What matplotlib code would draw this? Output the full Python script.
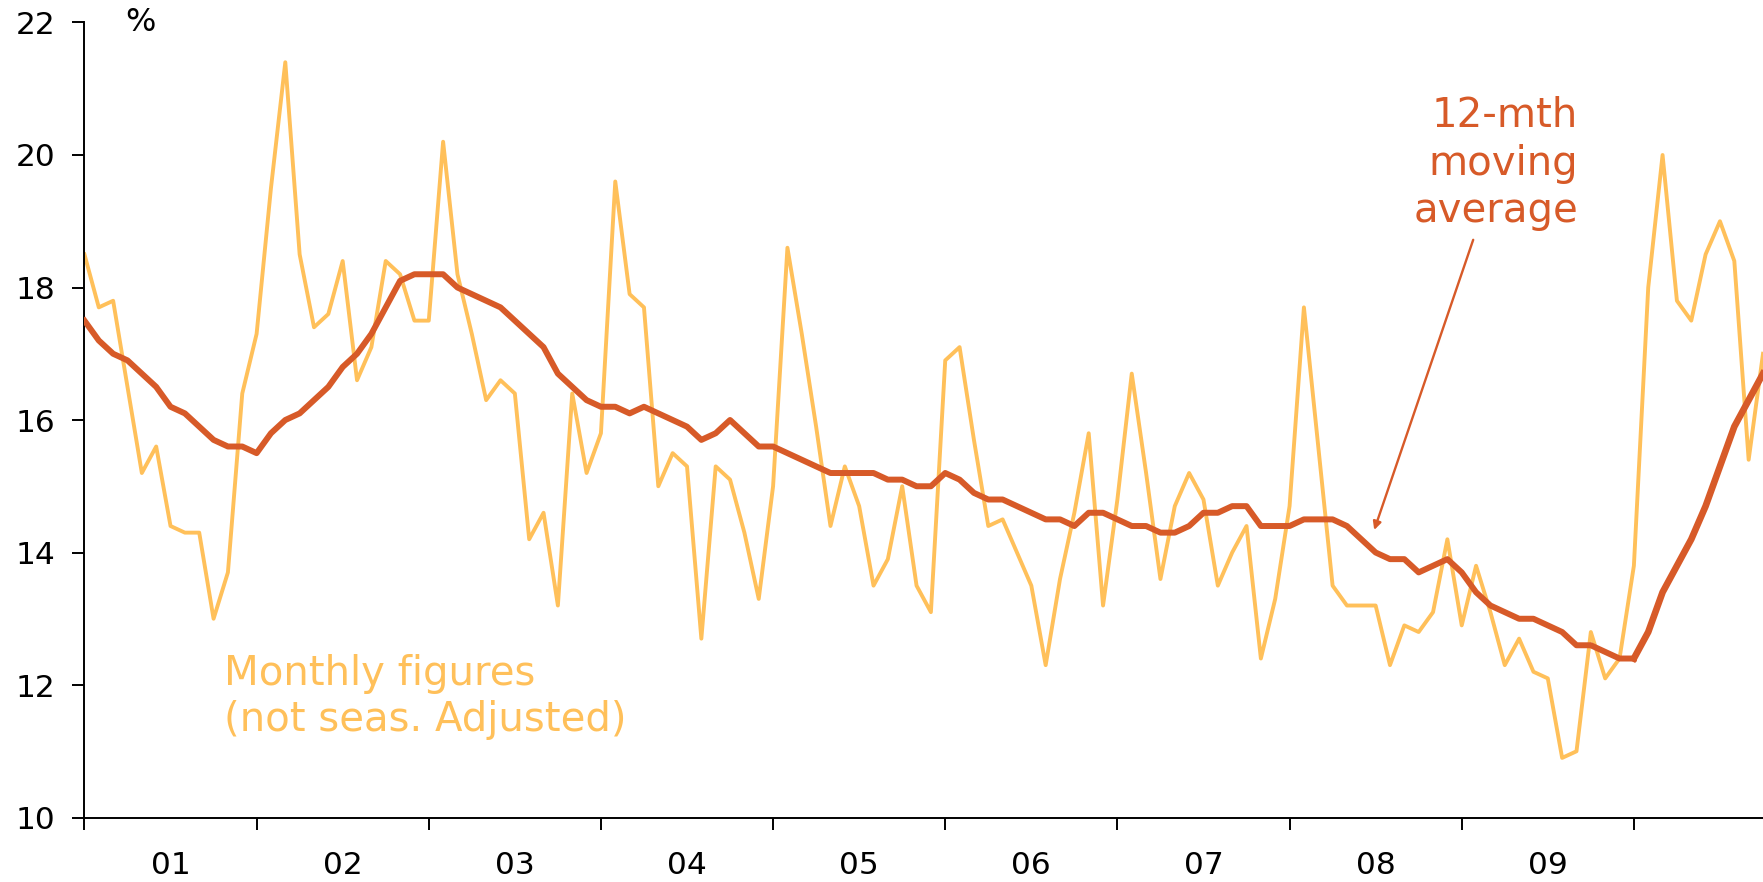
import matplotlib.pyplot as plt
import numpy as np

# monthly rate, Jan 2001 onwards (not seasonally adjusted)
monthly = [18.5, 17.7, 17.8, 16.5, 15.2, 15.6, 14.4, 14.3, 14.3, 13.0, 13.7, 16.4,
           17.3, 19.5, 21.4, 18.5, 17.4, 17.6, 18.4, 16.6, 17.1, 18.4, 18.2, 17.5,
           17.5, 20.2, 18.2, 17.3, 16.3, 16.6, 16.4, 14.2, 14.6, 13.2, 16.4, 15.2,
           15.8, 19.6, 17.9, 17.7, 15.0, 15.5, 15.3, 12.7, 15.3, 15.1, 14.3, 13.3,
           15.0, 18.6, 17.3, 15.9, 14.4, 15.3, 14.7, 13.5, 13.9, 15.0, 13.5, 13.1,
           16.9, 17.1, 15.7, 14.4, 14.5, 14.0, 13.5, 12.3, 13.6, 14.6, 15.8, 13.2,
           14.8, 16.7, 15.2, 13.6, 14.7, 15.2, 14.8, 13.5, 14.0, 14.4, 12.4, 13.3,
           14.7, 17.7, 15.6, 13.5, 13.2, 13.2, 13.2, 12.3, 12.9, 12.8, 13.1, 14.2,
           12.9, 13.8, 13.1, 12.3, 12.7, 12.2, 12.1, 10.9, 11.0, 12.8, 12.1, 12.4,
           13.8, 18.0, 20.0, 17.8, 17.5, 18.5, 19.0, 18.4, 15.4, 17.0]

# 12-month moving average
moving_avg = [17.5, 17.2, 17.0, 16.9, 16.7, 16.5, 16.2, 16.1, 15.9, 15.7, 15.6, 15.6,
              15.5, 15.8, 16.0, 16.1, 16.3, 16.5, 16.8, 17.0, 17.3, 17.7, 18.1, 18.2,
              18.2, 18.2, 18.0, 17.9, 17.8, 17.7, 17.5, 17.3, 17.1, 16.7, 16.5, 16.3,
              16.2, 16.2, 16.1, 16.2, 16.1, 16.0, 15.9, 15.7, 15.8, 16.0, 15.8, 15.6,
              15.6, 15.5, 15.4, 15.3, 15.2, 15.2, 15.2, 15.2, 15.1, 15.1, 15.0, 15.0,
              15.2, 15.1, 14.9, 14.8, 14.8, 14.7, 14.6, 14.5, 14.5, 14.4, 14.6, 14.6,
              14.5, 14.4, 14.4, 14.3, 14.3, 14.4, 14.6, 14.6, 14.7, 14.7, 14.4, 14.4,
              14.4, 14.5, 14.5, 14.5, 14.4, 14.2, 14.0, 13.9, 13.9, 13.7, 13.8, 13.9,
              13.7, 13.4, 13.2, 13.1, 13.0, 13.0, 12.9, 12.8, 12.6, 12.6, 12.5, 12.4,
              12.4, 12.8, 13.4, 13.8, 14.2, 14.7, 15.3, 15.9, 16.3, 16.7]

year_labels = ['01', '02', '03', '04', '05', '06', '07', '08', '09']
y_ticks = [10, 12, 14, 16, 18, 20, 22]

yellow = '#FFC05A'
red = '#D75A28'

months = np.arange(len(monthly))

fig = plt.figure(figsize=(17.63, 8.82), dpi=100)
ax = fig.add_axes([0.0479, 0.0731, 0.9521, 0.9014])

ax.plot(months, monthly, color=yellow, lw=2.8, zorder=2)
ax.plot(months[:109], moving_avg[:109], color=red, lw=4.3, zorder=3)
ax.plot(months[108:], moving_avg[108:], color=red, lw=4.8, zorder=3)

ax.set_xlim(0, len(monthly) - 1)
ax.set_ylim(10, 22)

for side in ['top', 'right']:
    ax.spines[side].set_visible(False)
for side in ['left', 'bottom']:
    ax.spines[side].set_linewidth(1.4)

# year boundaries as ticks, year names centred between them
ax.set_xticks(np.arange(0, 12 * len(year_labels) + 1, 12))
ax.set_xticklabels([])
ax.set_xticks(np.arange(6, 12 * len(year_labels), 12), minor=True)
ax.set_xticklabels(year_labels, minor=True)
ax.tick_params(axis='x', which='major', length=8.5, width=1.4, direction='out')
ax.tick_params(axis='x', which='minor', length=0, pad=24, labelsize=22.5)

ax.set_yticks(y_ticks)
ax.tick_params(axis='y', length=8.8, width=1.4, direction='out', pad=12, labelsize=22.5)

ax.text(3.9, 22.0, '%', ha='center', va='center', fontsize=23, clip_on=False)

for txt, yy in [('Monthly figures', 12.0), ('(not seas. Adjusted)', 11.3)]:
    ax.text(9.7, yy, txt, color=yellow, fontsize=29, ha='left', va='baseline')

for txt, yy in [('12-mth', 20.43), ('moving', 19.70), ('average', 18.99)]:
    ax.text(104.1, yy, txt, color=red, fontsize=29, ha='right', va='baseline')

ax.annotate('', xy=(89.9, 14.34), xytext=(96.8, 18.72),
            arrowprops=dict(arrowstyle='-|>', color=red, lw=1.7,
                            mutation_scale=12, shrinkA=0, shrinkB=0))

fig.savefig('out.png', dpi=100)
